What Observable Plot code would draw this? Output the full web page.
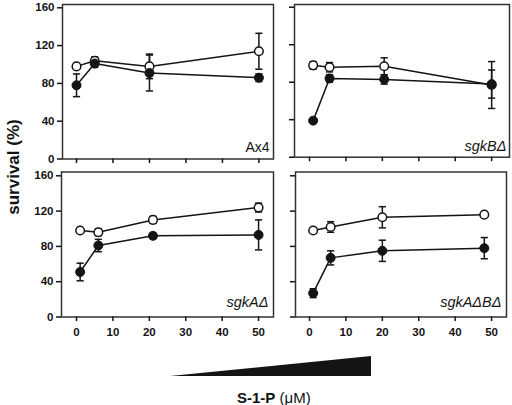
<!DOCTYPE html>
<html><head><meta charset="utf-8">
<script src="https://cdn.jsdelivr.net/npm/d3@7"></script>
<script src="https://cdn.jsdelivr.net/npm/@observablehq/plot@0.6"></script>
<style>
html,body{margin:0;padding:0;background:#fff;}
#root{position:relative;width:512px;height:405px;overflow:hidden;font-family:"Liberation Sans",Arial,sans-serif;color:#111;}
.panel{position:absolute;}
#ylabel{position:absolute;left:13px;top:167px;transform:translate(-50%,-50%) rotate(-90deg);font-weight:bold;font-size:17px;line-height:17px;white-space:nowrap;}
#xlabel{position:absolute;left:237px;top:390px;font-size:15px;line-height:15px;white-space:nowrap;}
</style></head><body><div id="root"><div id="ylabel">survival (%)</div><div id="xlabel"><b>S-1-P</b> (μM)</div></div>
<script>
// ---- data ----
const strains = ["Ax4", "sgkBΔ", "sgkAΔ", "sgkAΔBΔ"];
const yTicks = [0, 40, 80, 120, 160];
const xTicks = [0, 10, 20, 30, 40, 50];

const concAx4 = [0, 5, 20, 50];
const openAx4 = [98, 104, 98, 114];
const openErrAx4 = [0, 4, 13, 19];
const filledAx4 = [78, 101, 91, 86];
const filledErrAx4 = [12, 4, 19, 4];

const concB = [1, 5.5, 20.5, 50];
const openB = [98, 96, 97, 77];
const openErrB = [4, 5, 9, 25];
const filledB = [39, 84, 83, 78];
const filledErrB = [0, 4, 5, 15];

const concA = [1, 6, 21, 50];
const openA = [98, 96, 110, 124];
const openErrA = [0, 4, 4, 5];
const filledA = [51, 81, 92, 93];
const filledErrA = [10, 7, 3, 17];

const concAB = [1, 5.8, 20, 48];
const openAB = [98, 102, 113, 116];
const openErrAB = [0, 6, 12, 0];
const filledAB = [27, 67, 75, 78];
const filledErrAB = [5, 8, 12, 12];

const gradientConc = [0, 50];

// ---- build ----
const seriesData = {
  "Ax4": [concAx4, openAx4, openErrAx4, filledAx4, filledErrAx4],
  "sgkBΔ": [concB, openB, openErrB, filledB, filledErrB],
  "sgkAΔ": [concA, openA, openErrA, filledA, filledErrA],
  "sgkAΔBΔ": [concAB, openAB, openErrAB, filledAB, filledErrAB]
};
const layout = {
  "Ax4":    {left: 0,   top: 0,   width: 284, height: 166, mL: 62, mR: 11, mT: 4,   mB: 7.5,  xd: [-3.84, 54],  yd: [0, 163.5], xl: false, yl: true,  italic: false, dx: -4, dy: -7.5},
  "sgkBΔ":  {left: 284, top: 0,   width: 228, height: 166, mL: 10, mR: 3,  mT: 4,   mB: 9.3,  xd: [-4.12, 54.9], yd: [0, 162.9], xl: false, yl: false, italic: true,  dx: -3, dy: -6.7},
  "sgkAΔ":  {left: 0,   top: 166, width: 284, height: 179, mL: 61, mR: 11, mT: 5.5, mB: 28.5, xd: [-4.12, 54.1], yd: [0, 164.3], xl: true,  yl: true,  italic: true,  dx: -5, dy: -10},
  "sgkAΔBΔ":{left: 284, top: 166, width: 228, height: 179, mL: 11, mR: 6,  mT: 5.5, mB: 28.5, xd: [-3.85, 54.1], yd: [0, 164.3], xl: true,  yl: false, italic: true,  dx: -5, dy: -10}
};

const ink = "#141414";
const capSymbol = {draw(ctx, size) { const r = Math.sqrt(size / Math.PI); ctx.moveTo(-r, 0); ctx.lineTo(r, 0); }};
const root = document.getElementById("root");

for (const name of strains) {
  const [conc, om, oe, fm, fe] = seriesData[name];
  const L = layout[name];
  const open = conc.map((x, i) => ({x, y: om[i], e: oe[i]}));
  const filled = conc.map((x, i) => ({x, y: fm[i], e: fe[i]}));
  const all = open.concat(filled).filter(d => d.e > 0);
  const caps = all.flatMap(d => [{x: d.x, y: d.y - d.e}, {x: d.x, y: d.y + d.e}]);
  const svg = Plot.plot({
    width: L.width, height: L.height,
    marginLeft: L.mL, marginRight: L.mR, marginTop: L.mT, marginBottom: L.mB,
    x: {domain: L.xd},
    y: {domain: L.yd},
    style: {fontFamily: "Liberation Sans, Arial, sans-serif", fontSize: "11.5px", fontWeight: "bold", background: "transparent", color: ink, overflow: "visible"},
    marks: [
      Plot.frame({stroke: "#333", strokeWidth: 1.5}),
      Plot.axisY({ticks: yTicks, tickSize: 5, tickPadding: 3, label: null, strokeWidth: 1.5, tickFormat: L.yl ? d => d : () => ""}),
      Plot.axisX({ticks: xTicks, tickSize: 4.5, tickPadding: 6, label: null, strokeWidth: 1.5, tickFormat: L.xl ? d => d : () => ""}),
      Plot.ruleX(all, {x: "x", y1: d => d.y - d.e, y2: d => d.y + d.e, stroke: ink, strokeWidth: 1.5}),
      Plot.dot(caps, {x: "x", y: "y", symbol: capSymbol, r: 3.6, stroke: ink, strokeWidth: 1.5, fill: "none"}),
      Plot.line(open, {x: "x", y: "y", stroke: ink, strokeWidth: 1.5}),
      Plot.line(filled, {x: "x", y: "y", stroke: ink, strokeWidth: 1.5}),
      Plot.dot(open, {x: "x", y: "y", r: 4.3, fill: "white", stroke: ink, strokeWidth: 1.5}),
      Plot.dot(filled, {x: "x", y: "y", r: 4.5, fill: ink, stroke: ink, strokeWidth: 1}),
      Plot.text([name], {text: d => d, frameAnchor: "bottom-right", textAnchor: "end", lineAnchor: "bottom", dx: L.dx, dy: L.dy, fontSize: L.italic ? 14.5 : 14, fontWeight: "normal", fontStyle: L.italic ? "italic" : "normal", fill: ink})
    ]
  });
  svg.classList.add("panel");
  svg.style.left = L.left + "px";
  svg.style.top = L.top + "px";
  root.appendChild(svg);
}

// concentration wedge
const wedge = Plot.plot({
  width: 201, height: 24, marginLeft: 0, marginRight: 0, marginTop: 4, marginBottom: 0,
  x: {domain: [0, 50], axis: null},
  y: {domain: [0, 50], axis: null},
  style: {background: "transparent", overflow: "visible"},
  marks: [Plot.areaY(gradientConc, {x: d => d, y: d => d, fill: ink})]
});
wedge.classList.add("panel");
wedge.style.left = "170px";
wedge.style.top = "352px";
root.appendChild(wedge);
</script>
</body></html>
